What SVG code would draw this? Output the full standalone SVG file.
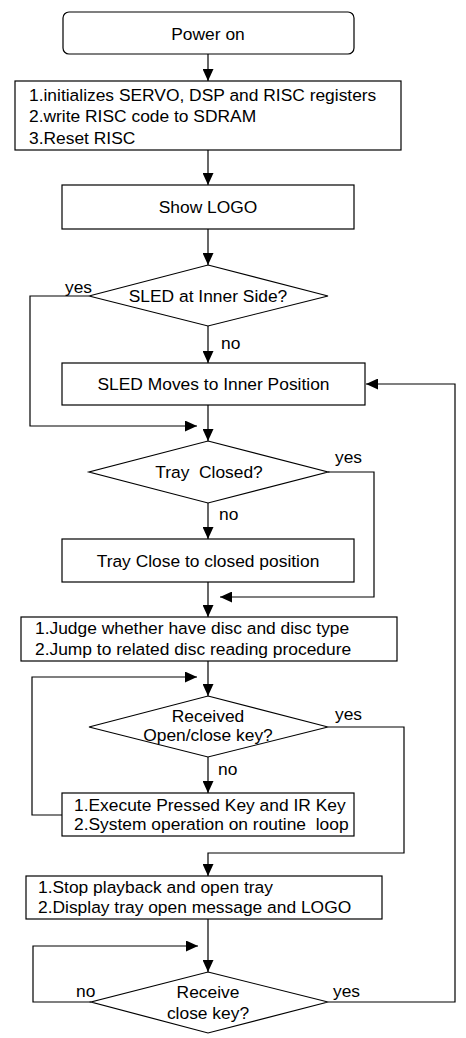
<svg xmlns="http://www.w3.org/2000/svg" width="466" height="1038" viewBox="0 0 466 1038">
<style>
.n{fill:#fff;stroke:#000;stroke-width:1.2}
.c{fill:none;stroke:#000;stroke-width:1.2;marker-end:url(#ah)}
text{font-family:"Liberation Sans",Arial,sans-serif;font-size:17.4px;fill:#000}
.m{text-anchor:middle}
</style>
<defs>
<marker id="ah" markerUnits="userSpaceOnUse" markerWidth="12" markerHeight="11" refX="12" refY="5.5" orient="auto">
<path d="M0,0 L12,5.5 L0,11 z" fill="#000"/>
</marker>
</defs>
<rect width="466" height="1038" fill="#fff"/>
<g id="connectors">
<path class="c" d="M208,54 V81"/>
<path class="c" d="M208,150 V185"/>
<path class="c" d="M208,229 V265"/>
<path class="c" d="M208,326 V363"/>
<path class="c" d="M208,405 V441"/>
<path class="c" d="M208,503 V539"/>
<path class="c" d="M208,582 V617"/>
<path class="c" d="M208,661 V696"/>
<path class="c" d="M208,757 V793"/>
<path class="c" d="M208,919 V972"/>
<path class="c" d="M89,296 H30 V426 H197"/>
<path class="c" d="M328,472 H374 V597 H220"/>
<path class="c" d="M328,727 H404 V853 H208 V876"/>
<path class="c" d="M62,815 H32 V677 H197"/>
<path class="c" d="M91,1002 H33 V946 H198"/>
<path class="c" d="M328,1002 H455 V384 H366"/>
<text x="65" y="293">yes</text>
<text x="221" y="349">no</text>
<text x="335" y="463">yes</text>
<text x="219" y="520">no</text>
<text x="335" y="720">yes</text>
<text x="218" y="775">no</text>
<text x="76" y="997">no</text>
<text x="333" y="997">yes</text>
</g>
<g id="power-on">
<rect class="n" x="63" y="12" width="291" height="42" rx="6"/>
<text class="m" x="208" y="40">Power on</text>
</g>
<g id="init">
<rect class="n" x="15" y="81" width="386" height="69"/>
<text x="29" y="101">1.initializes SERVO, DSP and RISC registers</text>
<text x="29" y="122">2.write RISC code to SDRAM</text>
<text x="29" y="144">3.Reset RISC</text>
</g>
<g id="show-logo">
<rect class="n" x="62" y="185" width="292" height="44"/>
<text class="m" x="208" y="213">Show LOGO</text>
</g>
<g id="sled-inner">
<path class="n" d="M208,265 L328,296 L208,326 L89,296 Z"/>
<text class="m" x="208" y="302">SLED at Inner Side?</text>
</g>
<g id="sled-moves">
<rect class="n" x="62" y="363" width="303" height="42"/>
<text class="m" x="213.5" y="390">SLED Moves to Inner Position</text>
</g>
<g id="tray-closed">
<path class="n" d="M208,441 L328,472 L208,503 L89,472 Z"/>
<text class="m" x="209" y="478" xml:space="preserve">Tray  Closed?</text>
</g>
<g id="tray-close">
<rect class="n" x="62" y="539" width="292" height="43"/>
<text class="m" x="208" y="567">Tray Close to closed position</text>
</g>
<g id="judge">
<rect class="n" x="21" y="617" width="376" height="44"/>
<text x="35" y="634">1.Judge whether have disc and disc type</text>
<text x="35" y="655">2.Jump to related disc reading procedure</text>
</g>
<g id="received">
<path class="n" d="M208,696 L328,727 L208,757 L89,727 Z"/>
<text class="m" x="208" y="722">Received</text>
<text class="m" x="208" y="741">Open/close key?</text>
</g>
<g id="execute">
<rect class="n" x="62" y="793" width="292" height="43"/>
<text x="74" y="811">1.Execute Pressed Key and IR Key</text>
<text x="74" y="830" xml:space="preserve">2.System operation on routine  loop</text>
</g>
<g id="stop">
<rect class="n" x="26" y="876" width="356" height="43"/>
<text x="38" y="893">1.Stop playback and open tray</text>
<text x="38" y="913">2.Display tray open message and LOGO</text>
</g>
<g id="receive-close">
<path class="n" d="M208,972 L328,1002 L208,1033 L91,1002 Z"/>
<text class="m" x="208" y="998">Receive</text>
<text class="m" x="208" y="1019">close key?</text>
</g>
</svg>
